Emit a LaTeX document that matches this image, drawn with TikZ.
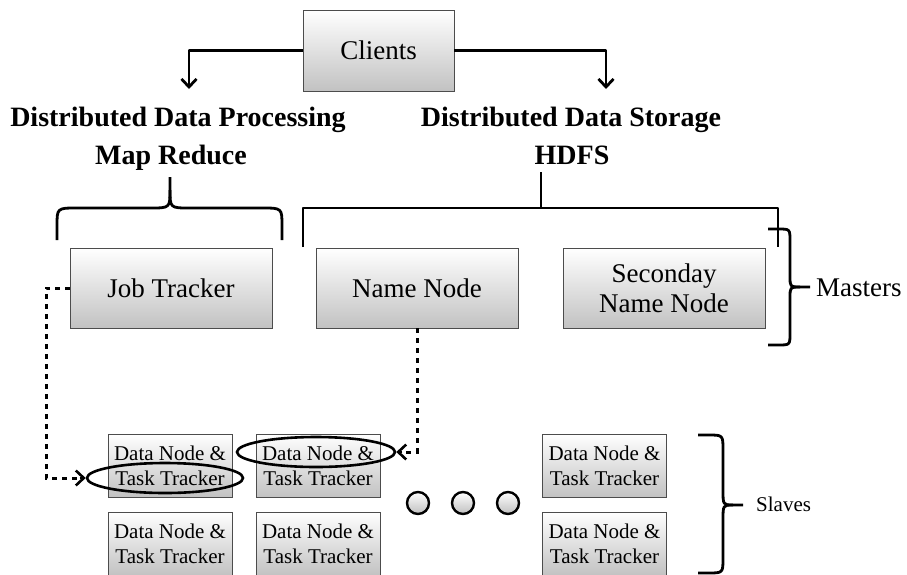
\documentclass[tikz,border=0pt]{standalone}
\usepackage{fontspec}
\setmainfont{Liberation Serif}
\usetikzlibrary{arrows.meta,shapes.geometric}

\begin{document}
\begin{tikzpicture}[x=1pt,y=-1pt,
  box/.style={draw=black!70, line width=0.9pt, top color=white, bottom color=black!24,
    minimum width=202pt, minimum height=80pt, inner sep=0pt, align=center,
    font=\fontsize{27}{30}\selectfont},
  dnbox/.style={box, minimum width=124pt, minimum height=63pt,
    font=\fontsize{21}{25}\selectfont},
  heading/.style={anchor=base, inner sep=0pt, font=\fontsize{28}{32}\selectfont\bfseries},
  label/.style={anchor=base west, inner sep=0pt},
  thick line/.style={line width=2.8pt, line join=round},
  arr/.style={thick line, -{Straight Barb[length=8pt,width=15pt]}},
  dotline/.style={line width=3pt, dash pattern=on 5pt off 5pt},
  dottip/.style={solid, line width=2.6pt, -{Straight Barb[length=8pt,width=15pt]}},
  mark ring/.style={ellipse, draw, line width=2.6pt, inner sep=0pt},
  dot/.style={circle, draw, line width=2.4pt, minimum size=22pt, inner sep=0pt,
    top color=white, bottom color=black!25},
]
\useasboundingbox (0,0) rectangle (907,574);

% clients and the two branches
\node[box, minimum width=151pt, minimum height=81pt] (cl) at (378.5,50.5) {Clients};
\coordinate (pl) at (189,89);
\coordinate (pr) at (606,89);
\draw[arr] (cl.west) -| (pl);
\draw[arr] (cl.east) -| (pr);

\node[heading] (dp1) at (178,126) {Distributed Data Processing};
\node[heading] (dp2) at (171,164) {Map Reduce};
\node[heading] (ds1) at (571,126) {Distributed Data Storage};
\node[heading] (ds2) at (572,164) {HDFS};

% brace under Map Reduce
\draw[thick line] (57,240) -- (57,226) .. controls (57,208) .. (77,208) -- (150,208)
  .. controls (170,208) .. (170,190) -- (170,177);
\draw[thick line] (282,240) -- (282,226) .. controls (282,208) .. (262,208) -- (190,208)
  .. controls (170,208) .. (170,190);

% bracket under HDFS
\draw[thick line] (541,172) -- (541,208);
\draw[thick line] (303,247) -- (303,208) -- (778,208) -- (778,247);

% masters
\node[box] (jt) at (171,288) {Job Tracker};
\node[box] (nn) at (417,288) {Name Node};
\node[box] (sn) at (664,288) {Seconday\\Name Node};

\draw[thick line] (768,229) -- (778,229) .. controls (790,229) .. (790,241) -- (790,276)
  .. controls (790,287) .. (800,287) -- (810,287);
\draw[thick line] (768,345) -- (778,345) .. controls (790,345) .. (790,333) -- (790,298)
  .. controls (790,287) .. (800,287);
\node[label, font=\fontsize{27}{30}\selectfont] (ms) at (816,296) {Masters};

% slaves
\node[dnbox] (d11) at (170,465.5) {Data Node \&\\Task Tracker};
\node[dnbox] (d12) at (318,465.5) {Data Node \&\\Task Tracker};
\node[dnbox] (d13) at (604.5,465.5) {Data Node \&\\Task Tracker};
\node[dnbox] (d21) at (170,543.5) {Data Node \&\\Task Tracker};
\node[dnbox] (d22) at (318,543.5) {Data Node \&\\Task Tracker};
\node[dnbox] (d23) at (604.5,543.5) {Data Node \&\\Task Tracker};

\node[dot] (o1) at (418,503) {};
\node[dot] (o2) at (463,503) {};
\node[dot] (o3) at (508,503) {};

\draw[thick line] (698,435) -- (708,435) .. controls (723,435) .. (723,450) -- (723,490)
  .. controls (723,505) .. (733,505) -- (743,505);
\draw[thick line] (698,573) -- (708,573) .. controls (723,573) .. (723,558) -- (723,520)
  .. controls (723,505) .. (733,505);
\node[label, font=\fontsize{21}{25}\selectfont] (sl) at (756,511) {Slaves};

% highlighted trackers and their links
\node[mark ring, minimum width=156pt, minimum height=30pt] (e1) at (165,478) {};
\node[mark ring, minimum width=158pt, minimum height=30pt] (e2) at (316,452) {};

\coordinate (jc) at (46,288);
\draw[dotline] (jt.west) -- (jc) |- ([xshift=-4pt]e1.west);
\draw[dottip] ([xshift=-6pt]e1.west) -- (e1.west);
\draw[dotline] (nn.south) |- ([xshift=4pt]e2.east);
\draw[dottip] ([xshift=6pt]e2.east) -- (e2.east);
\end{tikzpicture}
\end{document}
